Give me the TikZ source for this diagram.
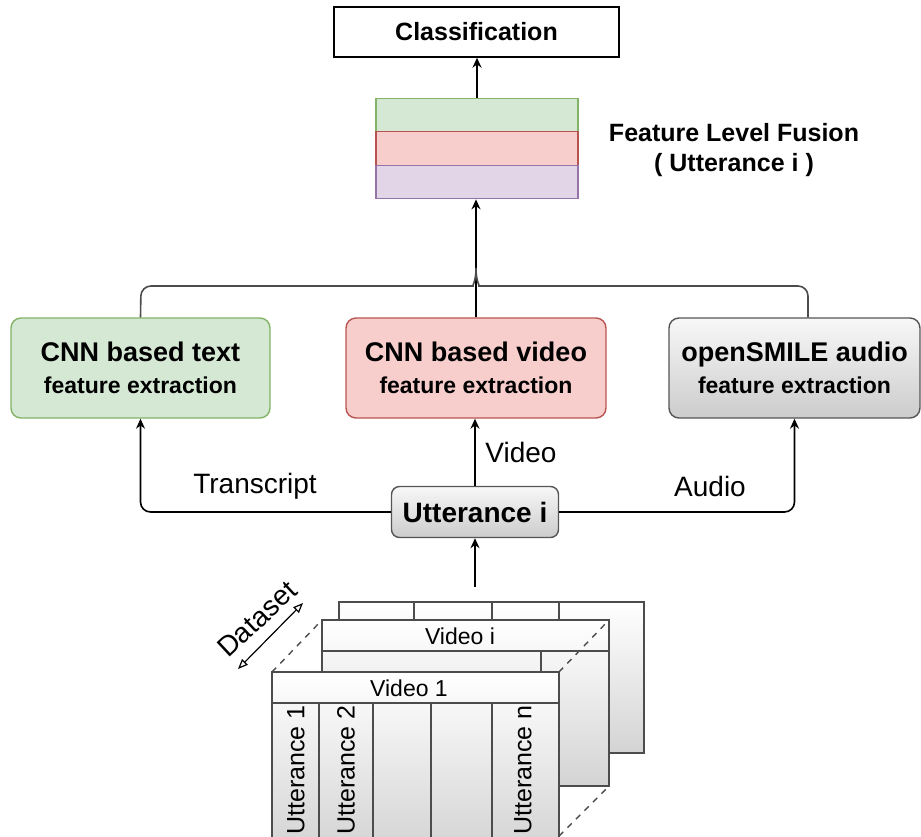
\documentclass[tikz,border=0pt]{standalone}
\usepackage{fontspec}
\setmainfont{Liberation Sans}
\usetikzlibrary{arrows.meta}

\definecolor{grnfill}{HTML}{D5E8D4}
\definecolor{grnline}{HTML}{82B366}
\definecolor{redfill}{HTML}{F8CECC}
\definecolor{redline}{HTML}{B85450}
\definecolor{purfill}{HTML}{E1D5E7}
\definecolor{purline}{HTML}{9673A6}
\definecolor{gryline}{HTML}{555555}

\def\px{0.5pt}
\tikzstyle{extractor} = [rectangle, rounded corners=5pt, line width=0.7pt, minimum height=50pt, inner sep=0pt, align=center, font=\bfseries\fontsize{13.5}{16}\selectfont]
\tikzstyle{layer} = [rectangle, line width=0.6pt, minimum width=101pt, minimum height=16.75pt, inner sep=0pt]
\tikzstyle{plain box} = [rectangle, draw, line width=0.7pt, inner sep=0pt, font=\bfseries\fontsize{12.5}{15}\selectfont]
\tikzstyle{label} = [inner sep=0pt, font=\fontsize{14}{16}\selectfont]
\tikzstyle{cell} = [inner sep=0pt, font=\fontsize{11.5}{14}\selectfont]
\tikzstyle{sheet} = [draw=black!70, line width=0.7pt, top color=white, bottom color=black!17]
\tikzstyle{sheet line} = [draw=black!70, line width=0.7pt]
\tikzstyle{feed} = [draw, line width=0.8pt, rounded corners=5pt, -{Stealth[length=5pt,width=4.5pt]}]
\tikzstyle{merge} = [draw, line width=0.8pt, black!70, rounded corners=5pt]

\begin{document}
\begin{tikzpicture}[x=\px, y=-\px]
\useasboundingbox (0,0) rectangle (921,836);
\begin{scope}
\clip (0,0) rectangle (921,836);
\path[sheet] (339,602) rectangle (644,753);
\foreach \x in {414,492,559} \draw[sheet line] (\x,602) -- (\x,620);
\path[sheet] (322,620) rectangle (609,786);
\draw[sheet line] (322,651) -- (609,651) (541,651) -- (541,672);
\node[cell] (vidI) at (460,636) {Video i};
\path[sheet] (272,672) rectangle (559,850);
\draw[sheet line] (272,703) -- (559,703);
\foreach \x in {319,373,431,492} \draw[sheet line] (\x,703) -- (\x,850);
\node[cell] (vidOne) at (409,688) {Video 1};
\foreach \x/\n in {296/1, 346/2, 523/n} {
    \node[cell, font=\fontsize{12.5}{14}\selectfont, rotate=90, anchor=east] (col\n) at (\x,705) {Utterance \n};
}
\draw[sheet line, dashed] (272,672) -- (322,620) (559,672) -- (609,620) (559,836) -- (609,786);
\end{scope}

\coordinate (dsA) at (238,669);
\coordinate (dsB) at (303,603);
\draw[line width=0.6pt, {Triangle[open,length=5pt,width=4pt]}-{Triangle[open,length=5pt,width=4pt]}] (dsA) -- (dsB);
\node[label, rotate=43] (dsName) at (257,619) {Dataset};

\node[plain box, minimum width=142.5pt, minimum height=25pt] (cls) at (476.5,32) {Classification};
\foreach \name/\col/\y in {fuseT/grn/115, fuseV/red/148.5, fuseA/pur/182} {
    \node[layer, fill=\col fill, draw=\col line] (\name) at (477,\y) {};
}
\node[inner sep=0pt, align=center, font=\bfseries\fontsize{12.5}{15}\selectfont] (fuseName) at (734,150) {Feature Level Fusion\\( Utterance i )};

\node[extractor, fill=grnfill, draw=grnline, minimum width=129.5pt] (text) at (140.5,368) {CNN based text\\\fontsize{11.5}{15}\selectfont feature extraction};
\node[extractor, fill=redfill, draw=redline, minimum width=130pt] (video) at (476,368) {CNN based video\\\fontsize{11.5}{15}\selectfont feature extraction};
\node[extractor, top color=black!3, bottom color=black!20, draw=gryline, minimum width=125.5pt] (audio) at (794.5,368) {openSMILE audio\\\fontsize{11.5}{15}\selectfont feature extraction};

\node[plain box, rounded corners=4pt, top color=black!3, bottom color=black!20, draw=gryline, minimum width=83.5pt, minimum height=25.5pt, font=\bfseries\fontsize{14}{16}\selectfont] (uttI) at (475,512) {Utterance i};
\coordinate (dsTop) at (475,587);

\node[label] (lblTr) at (255,486) {Transcript};
\node[label] (lblVi) at (521,452) {Video};
\node[label] (lblAu) at (710,486) {Audio};

\path[feed] (fuseT.north |- fuseT.north) -- (fuseT.north |- cls.south);
\path[feed] (video.north) -- (video.north |- fuseA.south);
\path[merge] (text.north) -- (141,286) -- (463,286) .. controls (472,286) and (476,282) .. (476,268);
\path[merge] ([xshift=6.75pt]audio.north) -- (808,286) -- (489,286) .. controls (480,286) and (476,282) .. (476,268);
\path[feed] (dsTop) -- (uttI.south);
\path[feed] (uttI.north) -- (uttI.north |- video.south);
\path[feed] (uttI.west) -| (text.south);
\path[feed] (uttI.east) -| (audio.south);
\end{tikzpicture}
\end{document}
